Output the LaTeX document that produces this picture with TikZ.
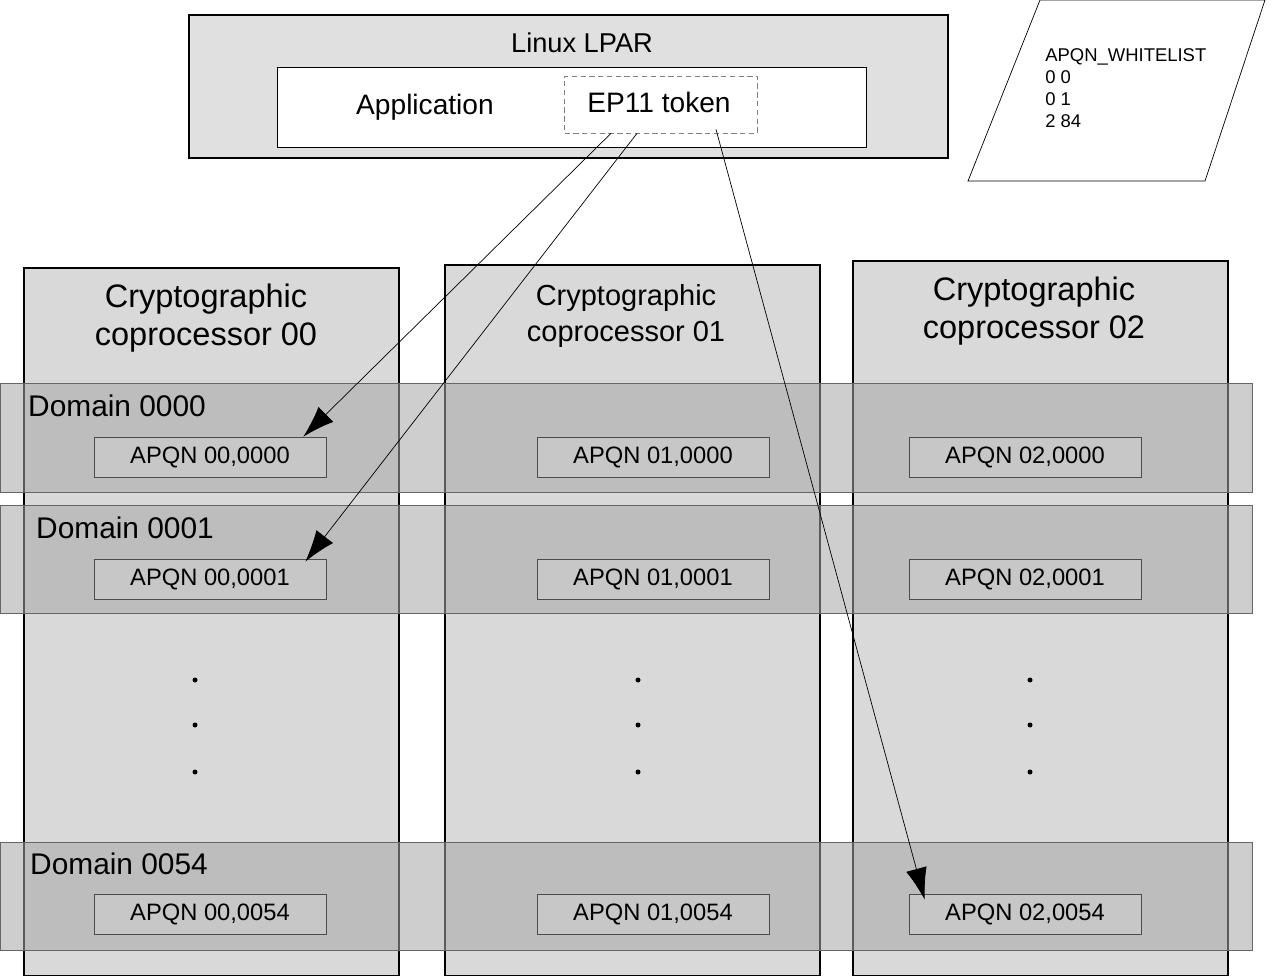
\documentclass[tikz,border=0pt]{standalone}
\usepackage{fontspec}
\setmainfont{Liberation Sans}
\usetikzlibrary{arrows.meta}
\tikzset{
  lpar/.style={draw=black,thick,fill=black!12},
  colbox/.style={draw=black,thick,fill=black!15},
  band/.style={draw=black!60,fill=black!35,fill opacity=0.55},
  apqn/.style={draw=black!70,fill=black!22,minimum width=4.64cm,minimum height=0.8cm,font=\fontsize{13.5}{14}\selectfont},
  title/.style={font=\fontsize{18.5}{22}\selectfont,align=center},
  dom/.style={anchor=west,font=\fontsize{17}{20}\selectfont},
  link/.style={thin,-{Latex[length=18pt,width=12pt]}}
}
\begin{document}
\begin{tikzpicture}[x=0.02cm,y=-0.02cm]
\useasboundingbox (0,0) rectangle (1280,976);
%lpar
\draw[lpar] (189,15) rectangle (948,158);
\node[font=\fontsize{15.5}{18}\selectfont] (lparname) at (582,43) {Linux LPAR};
\draw[thin,fill=white] (277,67) rectangle (866,147);
\node[font=\fontsize{16}{18}\selectfont] (app) at (425,107) {Application};
\node[draw=black!50,densely dashed,minimum width=3.86cm,minimum height=1.14cm,font=\fontsize{16}{18}\selectfont] (ep) at (661,104.5) {};
\node[font=\fontsize{16}{18}\selectfont] at (659,102) {EP11 token};
%whitelist
\draw[thin,fill=white] (1040,0) -- (1265,0) -- (1205,181) -- (968,181) -- cycle;
\node[anchor=north west,align=left,font=\fontsize{10.5}{12.5}\selectfont,inner sep=0pt] (wl) at (1045,48)
  {APQN\_WHITELIST\\0 0\\0 1\\2 84};
%columns
\draw[colbox] (24,268) rectangle (399,976);
\draw[colbox] (445,265) rectangle (820,976);
\draw[colbox] (853,261) rectangle (1228,976);
\node[title] (c0) at (206,318) {Cryptographic\\coprocessor 00};
\node[title,font=\fontsize{16.5}{20}\selectfont] (c1) at (626,316) {Cryptographic\\coprocessor 01};
\node[title] (c2) at (1034,311) {Cryptographic\\coprocessor 02};
%bands
\foreach \t/\b in {383/492,505/613,842/950}
  \draw[band] (0,\t) rectangle (1252,\b);
\node[dom] at (22,406) {Domain 0000};
\node[dom] at (30,528) {Domain 0001};
\node[dom] at (24,864) {Domain 0054};
%apqns
\foreach \c/\x in {00/210,01/653,02/1025}
  \foreach \d/\y in {0000/457,0001/579,0054/914}
    \node[apqn] (a\c\d) at (\x,\y) {APQN \c,\d};
%dots
\foreach \x in {195,638,1030}
  \foreach \y in {680,725,772}
    \fill (\x,\y) circle (2.5);
%links
\draw[link] ([xshift=-1.0cm]ep.south) -- ([xshift=-0.46cm]a000000.north east);
\draw[link] ([xshift=-0.48cm]ep.south) -- ([xshift=-0.42cm,yshift=-0.06cm]a000001.north east);
\draw[link] ([xshift=1.1cm,yshift=0.08cm]ep.south) -- ([xshift=0.32cm,yshift=-0.12cm]a020054.north west);
\end{tikzpicture}
\end{document}
